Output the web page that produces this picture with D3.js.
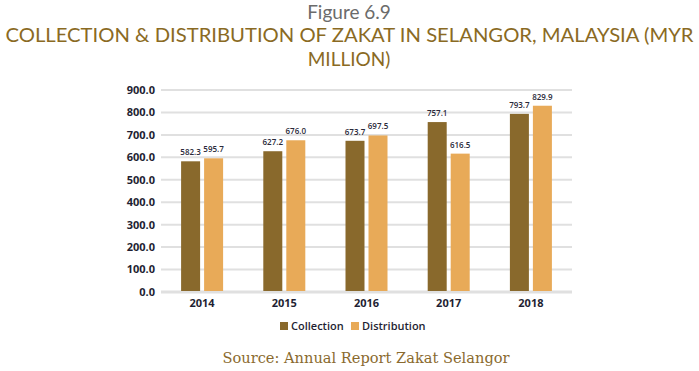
<!DOCTYPE html>
<html><head><meta charset="utf-8">
<script src="https://cdn.jsdelivr.net/npm/d3@7"></script>
<style>html,body{margin:0;padding:0;background:#fff;}</style>
</head><body>
<svg id="c" width="699" height="371"></svg>
<script>
const years = ["2014","2015","2016","2017","2018"];
const collection = [582.3, 627.2, 673.7, 757.1, 793.7];
const distribution = [595.7, 676.0, 697.5, 616.5, 829.9];
const yTicks = [0,100,200,300,400,500,600,700,800,900];
const seriesNames = ["Collection","Distribution"];
const colors = ["#89692c","#e8aa58"];

const svg = d3.select("#c");
const x = d3.scaleBand().domain(years).range([161,572]).padding(0);
const y = d3.scaleLinear().domain([0,900]).range([292,90]);

// titles
svg.append("text").attr("x",349).attr("y",19).attr("text-anchor","middle")
  .attr("font-family","Lato, 'Open Sans', sans-serif").attr("font-size",19)
  .attr("fill","#6b6b6b").text("Figure 6.9");
svg.append("text").attr("x",349.5).attr("y",42).attr("text-anchor","middle")
  .attr("font-family","Lato, 'Open Sans', sans-serif").attr("font-size",19)
  .attr("textLength",688).attr("lengthAdjust","spacingAndGlyphs")
  .attr("fill","#8a6a23").text("COLLECTION & DISTRIBUTION OF ZAKAT IN SELANGOR, MALAYSIA (MYR");
svg.append("text").attr("x",349).attr("y",66).attr("text-anchor","middle")
  .attr("font-family","Lato, 'Open Sans', sans-serif").attr("font-size",19)
  .attr("fill","#8a6a23").text("MILLION)");

// gridlines
svg.append("g").selectAll("line").data(yTicks).join("line")
  .attr("x1",161).attr("x2",572).attr("y1",d=>y(d)).attr("y2",d=>y(d))
  .attr("stroke","#e0e0e0").attr("stroke-width",d=>d===0?3:2);

// y tick labels
svg.append("g").selectAll("text").data(yTicks).join("text")
  .attr("x",155).attr("y",d=>y(d)).attr("dy","0.35em").attr("text-anchor","end")
  .attr("font-family","'Open Sans', sans-serif").attr("font-size",11).attr("font-weight",700)
  .attr("fill","#1f1f33").text(d=>d3.format(".1f")(d));

// bars
const bw = 19, gap = 2;
const data = years.map((yr,i)=>({yr, vals:[collection[i], distribution[i]]}));
const g = svg.append("g");
data.forEach(d=>{
  const cx = x(d.yr) + x.bandwidth()/2;
  d.vals.forEach((v,k)=>{
    const bx = k===0 ? cx - gap - bw : cx + gap;
    g.append("rect").attr("x",bx).attr("y",y(v)).attr("width",bw).attr("height",y(0)-1-y(v))
      .attr("fill",colors[k]);
    g.append("text").attr("x",bx+bw/2).attr("y",y(v)-6).attr("text-anchor","middle")
      .attr("font-family","'Open Sans', sans-serif").attr("font-size",8).attr("font-weight",600)
      .attr("fill","#2a2a3a").text(d3.format(".1f")(v));
  });
});

// x labels
svg.append("g").selectAll("text").data(years).join("text")
  .attr("x",d=>x(d)+x.bandwidth()/2).attr("y",307).attr("text-anchor","middle")
  .attr("font-family","'Open Sans', sans-serif").attr("font-size",11).attr("font-weight",700)
  .attr("fill","#1f1f33").text(d=>d);

// legend
const lx = [280,351];
seriesNames.forEach((n,k)=>{
  svg.append("rect").attr("x",lx[k]).attr("y",322).attr("width",8).attr("height",8).attr("fill",colors[k]);
  svg.append("text").attr("x",lx[k]+11).attr("y",326).attr("dy","0.35em")
    .attr("font-family","'Open Sans', sans-serif").attr("font-size",11).attr("font-weight",600)
    .attr("fill","#1f1f33").text(n);
});

// source
svg.append("text").attr("x",366).attr("y",363).attr("text-anchor","middle")
  .attr("font-family","'DejaVu Serif', serif").attr("font-size",15)
  .attr("textLength",287).attr("lengthAdjust","spacingAndGlyphs")
  .attr("fill","#8a6a2e").text("Source: Annual Report Zakat Selangor");
</script>
</body></html>
